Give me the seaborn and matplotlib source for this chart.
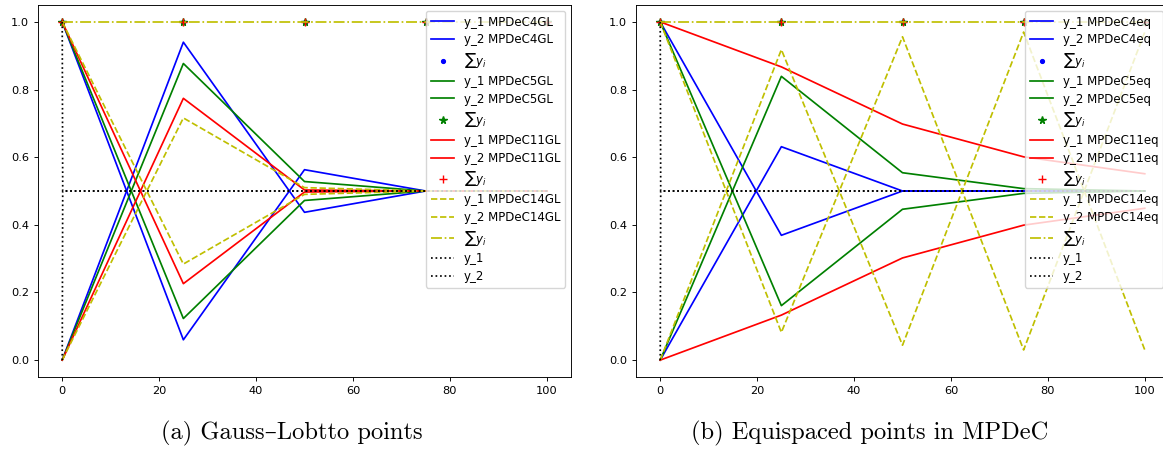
import matplotlib
matplotlib.use("Agg")
import matplotlib.pyplot as plt
import seaborn as sns
import numpy as np

# time nodes
t = [0, 25, 50, 75, 100]
t_exact = [0, 0.1, 100]
y1_exact = [1.0, 0.5, 0.5]
y2_exact = [0.0, 0.5, 0.5]

# Gauss-Lobatto runs
gl_y1 = {
    "4": [1.0, 0.06, 0.563, 0.5, 0.5],
    "5": [1.0, 0.123, 0.472, 0.5, 0.5],
    "11": [1.0, 0.226, 0.497, 0.5, 0.5],
    "14": [1.0, 0.284, 0.49, 0.5, 0.5],
}
gl_y2 = {
    "4": [0.0, 0.94, 0.437, 0.5, 0.5],
    "5": [0.0, 0.877, 0.528, 0.5, 0.5],
    "11": [0.0, 0.774, 0.503, 0.5, 0.5],
    "14": [0.0, 0.716, 0.51, 0.5, 0.5],
}

# equispaced runs
eq_y1 = {
    "4": [1.0, 0.369, 0.5, 0.5, 0.5],
    "5": [1.0, 0.161, 0.446, 0.493, 0.5],
    "11": [1.0, 0.867, 0.698, 0.601, 0.551],
    "14": [1.0, 0.082, 0.956, 0.03, 0.97],
}
eq_y2 = {
    "4": [0.0, 0.631, 0.5, 0.5, 0.5],
    "5": [0.0, 0.839, 0.554, 0.507, 0.5],
    "11": [0.0, 0.133, 0.302, 0.399, 0.449],
    "14": [0.0, 0.918, 0.044, 0.97, 0.03],
}

orders = ["4", "5", "11", "14"]
colors = {"4": "b", "5": "g", "11": "r", "14": "y"}
sum_marker = {"4": ".", "5": "*", "11": "+"}

S = 0.82  # the picture is a scaled-down default matplotlib figure
plt.rcParams["font.size"] = 10 * S
plt.rcParams["axes.linewidth"] = 0.8 * S
plt.rcParams["xtick.major.size"] = 3.5 * S
plt.rcParams["ytick.major.size"] = 3.5 * S
plt.rcParams["xtick.major.width"] = 0.8 * S
plt.rcParams["ytick.major.width"] = 0.8 * S
plt.rcParams["mathtext.fontset"] = "dejavusans"

fig = plt.figure(figsize=(11.63, 4.49), dpi=100)
W, H = 1163, 449
ax_a = fig.add_axes([38 / W, (H - 377) / H, 533 / W, 372 / H])
ax_b = fig.add_axes([636 / W, (H - 377) / H, 533 / W, 372 / H])


def draw(ax, y1, y2, tag):
    lw = 1.5 * S
    for o in orders:
        c = colors[o]
        ls = "--" if o == "14" else "-"
        sns.lineplot(x=t, y=y1[o], ax=ax, color=c, linestyle=ls, lw=lw,
                     label=f"y_1 MPDeC{o}{tag}")
        sns.lineplot(x=t, y=y2[o], ax=ax, color=c, linestyle=ls, lw=lw,
                     label=f"y_2 MPDeC{o}{tag}")
        total = np.array(y1[o]) * 0 + 1.0
        if o in sum_marker:
            sns.lineplot(x=t, y=total, ax=ax, color=c, linestyle="",
                         marker=sum_marker[o], markersize=5.5,
                         markeredgecolor=c, markeredgewidth=1.0,
                         label=r"$\sum y_i$")
        else:
            sns.lineplot(x=t, y=total, ax=ax, color=c, linestyle="-.",
                         lw=lw, label=r"$\sum y_i$")
    sns.lineplot(x=t_exact, y=y1_exact, ax=ax, color="k", linestyle=":",
                 lw=lw, label="y_1")
    sns.lineplot(x=t_exact, y=y2_exact, ax=ax, color="k", linestyle=":",
                 lw=lw, label="y_2")
    ax.set_xlim(-5, 105)
    ax.set_ylim(-0.05, 1.05)
    ax.set_xticks([0, 20, 40, 60, 80, 100])
    ax.set_yticks([0.0, 0.2, 0.4, 0.6, 0.8, 1.0])
    ax.set_xlabel("")
    ax.set_ylabel("")
    ax.legend(loc="upper right", fontsize=8.5, labelspacing=0.4)


draw(ax_a, gl_y1, gl_y2, "GL")
draw(ax_b, eq_y1, eq_y2, "eq")

cap_font = ["cmr10", "DejaVu Serif"]
fig.text(292 / W, 1 - 433 / H, "(a) Gauss\u2013Lobtto points", ha="center",
         va="center", fontsize=17.6, family=cap_font)
fig.text(870 / W, 1 - 433 / H, "(b) Equispaced points in MPDeC", ha="center",
         va="center", fontsize=17.6, family=cap_font)

fig.savefig("out.png", dpi=100)
plt.close()
